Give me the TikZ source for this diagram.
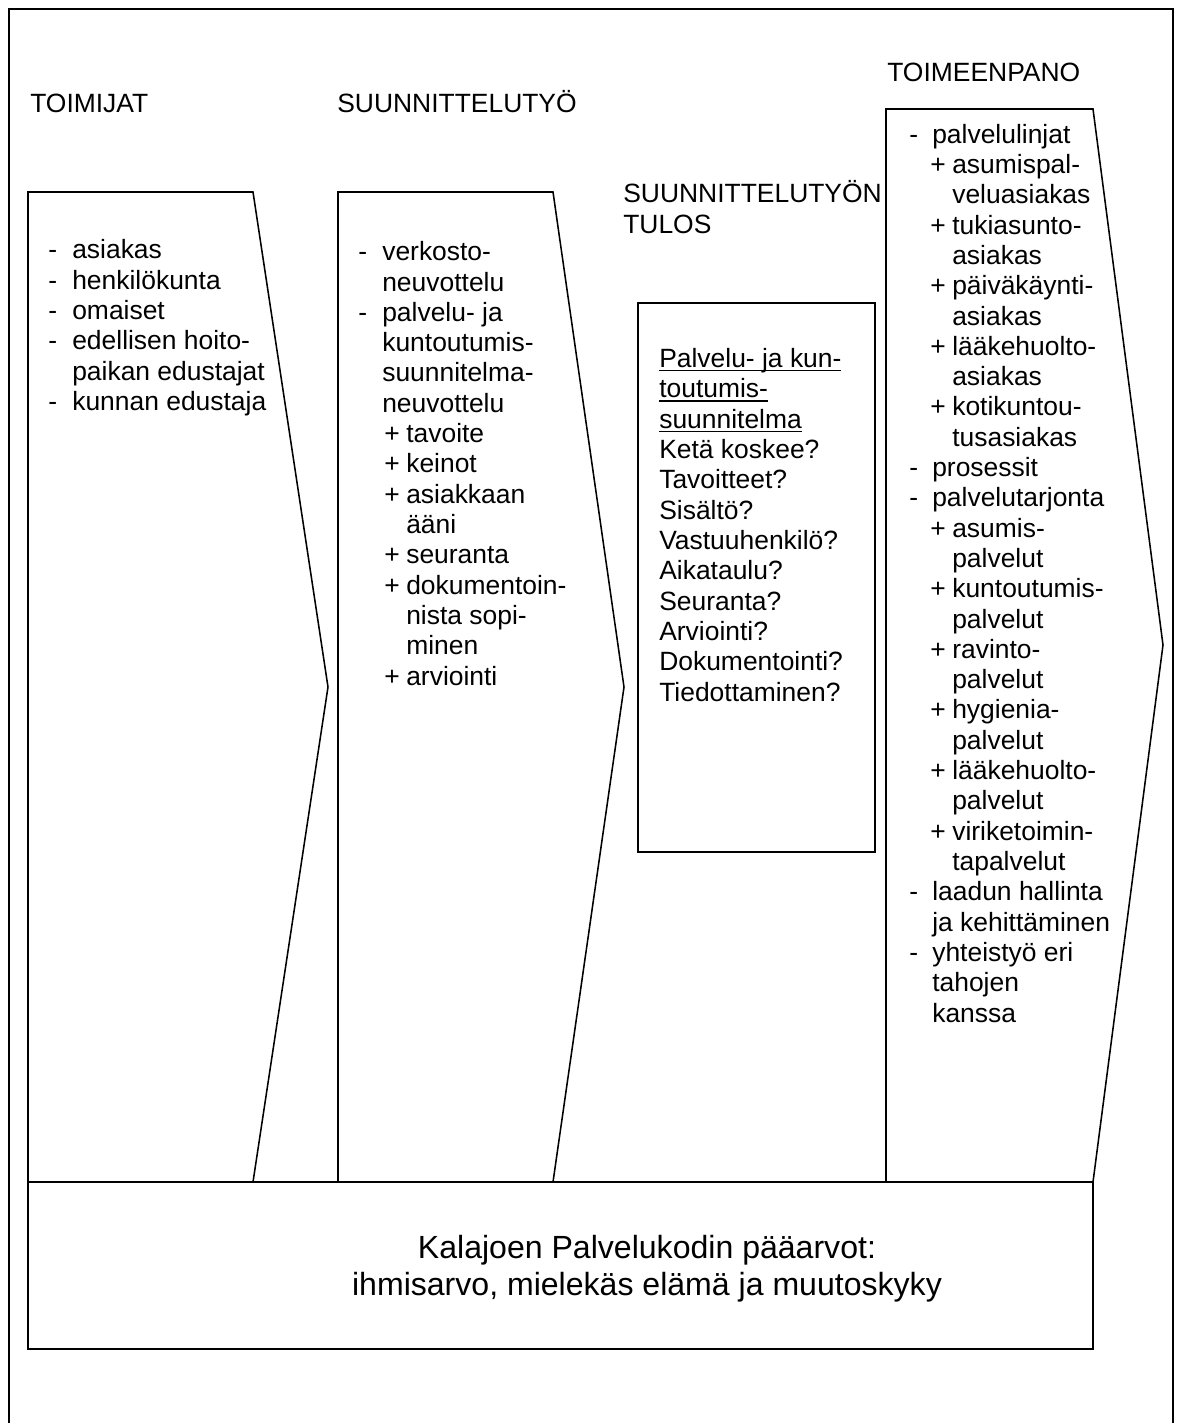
\documentclass[tikz,border=0pt]{standalone}
\usepackage{fontspec}
\setmainfont{Liberation Sans}
\usetikzlibrary{positioning}
\newcommand{\kalafont}{\fontsize{18.8pt}{21.55pt}\selectfont}
\newcommand{\kalabig}{\fontsize{22.8pt}{26.2pt}\selectfont}
\newlength\kaladashw \setlength\kaladashw{0.6cm}
\newlength\kalaplusx \setlength\kalaplusx{0.65cm}
\newlength\kalaplusw \setlength\kalaplusw{0.55cm}
\newcommand{\kd}{\makebox[\kaladashw][l]{-}}
\newcommand{\kc}{\hspace*{\kaladashw}}
\newcommand{\kp}{\hspace*{\kalaplusx}\makebox[\kalaplusw][l]{+}}
\newcommand{\kpc}{\hspace*{\kalaplusx}\hspace*{\kalaplusw}}
\newcommand{\kalaul}[1]{\setbox0\hbox{#1}\rlap{\rule[-0.09cm]{\wd0}{0.033cm}}\box0}
\tikzset{
    kalaframe/.style={draw, line width=1.4pt},
    kalashape/.style={draw, line width=1.1pt, line join=miter},
    % multi-line nodes: the base anchor sits on the last line
    kalatitle/.style={anchor=base west, inner sep=0pt, align=left, font=\kalafont},
    kalalist/.style={anchor=base west, inner sep=0pt, align=left, font=\kalafont},
    kalavalue/.style={anchor=base, inner sep=0pt, align=center, font=\kalabig}
}
\begin{document}
\begin{tikzpicture}[x=0.025cm, y=-0.025cm]
    \useasboundingbox (0,0) rectangle (1180,1423);
    % outer frame, open at the bottom
    \draw[kalaframe] (9,1440) -- (9,9) -- (1173,9) -- (1173,1440);

    % phases
    \draw[kalashape] (28,192) -- (253,192) -- (328,687) -- (253,1182) -- (28,1182) -- cycle;
    \draw[kalashape] (338,192) -- (553,192) -- (624,687) -- (553,1182) -- (338,1182) -- cycle;
    \draw[kalashape] (638,303) rectangle (875,852);
    \draw[kalashape] (886,109) -- (1093,109) -- (1163,645) -- (1093,1182) -- (886,1182) -- cycle;
    \draw[kalashape] (28,1182) rectangle (1093,1349);

    \node[kalatitle] (toimijat) at (30,112) {TOIMIJAT};
    \node[kalatitle] (suunnittelu) at (337,112) {SUUNNITTELUTYÖ};
    \node[kalatitle] (tulos) at (623,233) {SUUNNITTELUTYÖN\\TULOS};
    \node[kalatitle] (toimeenpano) at (887,81) {TOIMEENPANO};

    \node[kalalist] (toimijatlist) at (48,410.5) {\kd asiakas\\\kd henkilökunta\\\kd omaiset\\\kd edellisen hoito-\\\kc paikan edustajat\\\kd kunnan edustaja};

    \node[kalalist] (suunnittelulist) at (358,685) {\kd verkosto-\\\kc neuvottelu\\\kd palvelu- ja\\\kc kuntoutumis-\\\kc suunnitelma-\\\kc neuvottelu\\\kp tavoite\\\kp keinot\\\kp asiakkaan\\\kpc ääni\\\kp seuranta\\\kp dokumentoin-\\\kpc nista sopi-\\\kpc minen\\\kp arviointi};

    \node[kalalist] (tuloslist) at (659,701) {\kalaul{Palvelu- ja kun-}\\\kalaul{toutumis-}\\\kalaul{suunnitelma}\\Ketä koskee?\\Tavoitteet?\\Sisältö?\\Vastuuhenkilö?\\Aikataulu?\\Seuranta?\\Arviointi?\\Dokumentointi?\\Tiedottaminen?};

    \setlength\kaladashw{0.575cm}
    \setlength\kalaplusx{0.525cm}
    \node[kalalist] (toimeenpanolist) at (909,1022) {\kd palvelulinjat\\\kp asumispal-\\\kpc veluasiakas\\\kp tukiasunto-\\\kpc asiakas\\\kp päiväkäynti-\\\kpc asiakas\\\kp lääkehuolto-\\\kpc asiakas\\\kp kotikuntou-\\\kpc tusasiakas\\\kd prosessit\\\kd palvelutarjonta\\\kp asumis-\\\kpc palvelut\\\kp kuntoutumis-\\\kpc palvelut\\\kp ravinto-\\\kpc palvelut\\\kp hygienia-\\\kpc palvelut\\\kp lääkehuolto-\\\kpc palvelut\\\kp viriketoimin-\\\kpc tapalvelut\\\kd laadun hallinta\\\kc ja kehittäminen\\\kd yhteistyö eri\\\kc tahojen\\\kc kanssa};

    \node[kalavalue] (arvot) at (647,1295) {Kalajoen Palvelukodin pääarvot:\\ihmisarvo, mielekäs elämä ja muutoskyky};
\end{tikzpicture}
\end{document}
